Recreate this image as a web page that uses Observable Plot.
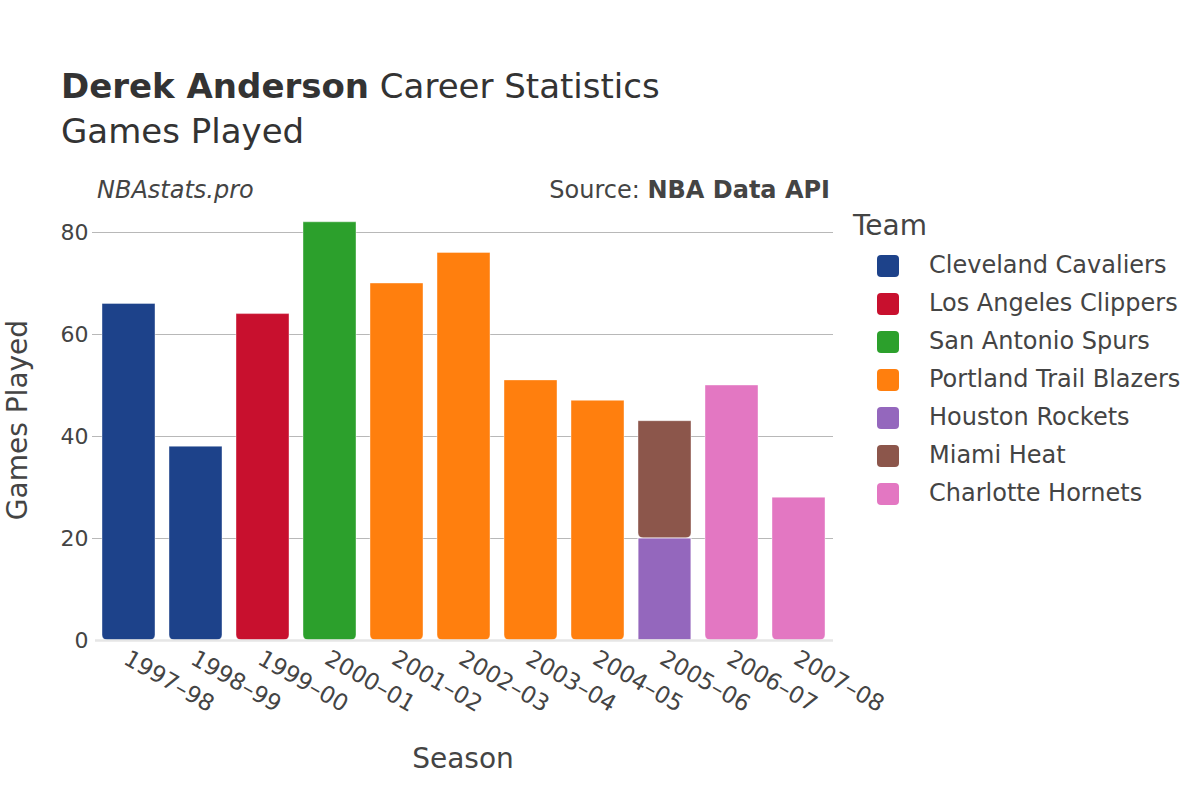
<!DOCTYPE html>
<html>
<head>
<meta charset="utf-8">
<script src="https://cdn.jsdelivr.net/npm/d3@7"></script>
<script src="https://cdn.jsdelivr.net/npm/@observablehq/plot@0.6"></script>
<style>
  html, body { margin: 0; padding: 0; background: #fff; }
  #wrap { position: relative; width: 1200px; height: 800px; font-family: "DejaVu Sans", sans-serif; color: #444; }
  .abs { position: absolute; white-space: nowrap; }
  #chart { position: absolute; left: 0; top: 0; }
  .sw { position: absolute; width: 22px; height: 22px; border-radius: 4px; }
</style>
</head>
<body>
<div id="wrap">
  <div id="chart"></div>
  <div class="abs" style="left:61px; top:66px; font-size:34px; color:#333;"><b>Derek Anderson</b> Career Statistics</div>
  <div class="abs" style="left:61px; top:111px; font-size:34px; color:#333;">Games Played</div>
  <div class="abs" style="left:97px; top:176px; font-size:24px; font-style:italic; color:#444;">NBAstats.pro</div>
  <div class="abs" style="right:370px; top:176px; font-size:24px; color:#444;">Source: <b>NBA Data API</b></div>
  <div class="abs" style="left:463px; top:742px; font-size:28px; color:#444; transform:translateX(-50%);">Season</div>
  <div class="abs" style="left:17px; top:420px; font-size:28px; color:#444; transform:translate(-50%,-50%) rotate(-90deg);">Games Played</div>
  <div id="legend"></div>
</div>
<script>
const seasons = ["1997-98","1998-99","1999-00","2000-01","2001-02","2002-03","2003-04","2004-05","2005-06","2006-07","2007-08"];
const rowSeason = ["1997-98","1998-99","1999-00","2000-01","2001-02","2002-03","2003-04","2004-05","2005-06","2005-06","2006-07","2007-08"];
const rowTeam = ["Cleveland Cavaliers","Cleveland Cavaliers","Los Angeles Clippers","San Antonio Spurs","Portland Trail Blazers","Portland Trail Blazers","Portland Trail Blazers","Portland Trail Blazers","Houston Rockets","Miami Heat","Charlotte Hornets","Charlotte Hornets"];
const rowGames = [66,38,64,82,70,76,51,47,20,23,50,28];
const teams = ["Cleveland Cavaliers","Los Angeles Clippers","San Antonio Spurs","Portland Trail Blazers","Houston Rockets","Miami Heat","Charlotte Hornets"];
const teamColors = ["#1d428a","#c8102e","#2ca02c","#ff7f0e","#9467bd","#8c564b","#e377c2"];
const yTicks = [0,20,40,60,80];

// build stacked rows
const rows = [];
const cum = {};
rowSeason.forEach((s, i) => {
  const base = cum[s] || 0;
  rows.push({season: s, team: rowTeam[i], y1: base, y2: base + rowGames[i]});
  cum[s] = base + rowGames[i];
});
rows.forEach(r => { r.top = r.y2 === cum[r.season]; });
const topRows = rows.filter(r => r.top);
const innerRows = rows.filter(r => !r.top);

const chart = Plot.plot({
  width: 1200,
  height: 800,
  marginLeft: 95,
  marginRight: 369,
  marginTop: 200,
  marginBottom: 160,
  style: {fontFamily: "DejaVu Sans, sans-serif", background: "transparent"},
  x: {domain: seasons, paddingInner: 0.215, paddingOuter: 0.059, axis: null},
  y: {domain: [0, 440/5.1], axis: null},
  color: {domain: teams, range: teamColors},
  marks: [
    Plot.ruleY(yTicks.filter(d => d > 0), {stroke: "#b8b8b8", strokeWidth: 1.2, insetLeft: -3, insetRight: -2}),
    Plot.rectY(topRows, {x: "season", y1: "y1", y2: "y2", fill: "team", ry1: 5, stroke: "white", strokeOpacity: 0.5, strokeWidth: 0.8}),
    Plot.rectY(innerRows, {x: "season", y1: "y1", y2: "y2", fill: "team", stroke: "white", strokeOpacity: 0.8, strokeWidth: 1}),
    Plot.ruleY([0], {stroke: "#e6e6e6", strokeWidth: 2.5, insetRight: -2}),
    Plot.text(yTicks, {y: d => d, text: d => String(d), frameAnchor: "left", dx: -7, textAnchor: "end", fontSize: 22, fill: "#444"}),
    Plot.text(seasons, {x: d => d, text: d => d.replace("-", "\u2013"), frameAnchor: "bottom", dy: 16, dx: -3, rotate: 30, textAnchor: "start", lineAnchor: "middle", fontSize: 23, fill: "#444"})
  ]
});
document.getElementById("chart").appendChild(chart);

// legend
const leg = document.getElementById("legend");
const t = document.createElement("div");
t.className = "abs"; t.style.left = "853px"; t.style.top = "209px"; t.style.fontSize = "28px"; t.style.color = "#444";
t.textContent = "Team";
leg.appendChild(t);
teams.forEach((name, i) => {
  const y = 266 + i * 38;
  const sw = document.createElement("div");
  sw.className = "sw"; sw.style.left = "877px"; sw.style.top = (y - 11) + "px"; sw.style.background = teamColors[i];
  leg.appendChild(sw);
  const lb = document.createElement("div");
  lb.className = "abs"; lb.style.left = "929px"; lb.style.top = (y - 15) + "px"; lb.style.fontSize = "24px"; lb.style.color = "#444";
  lb.textContent = name;
  leg.appendChild(lb);
});
</script>
</body>
</html>
